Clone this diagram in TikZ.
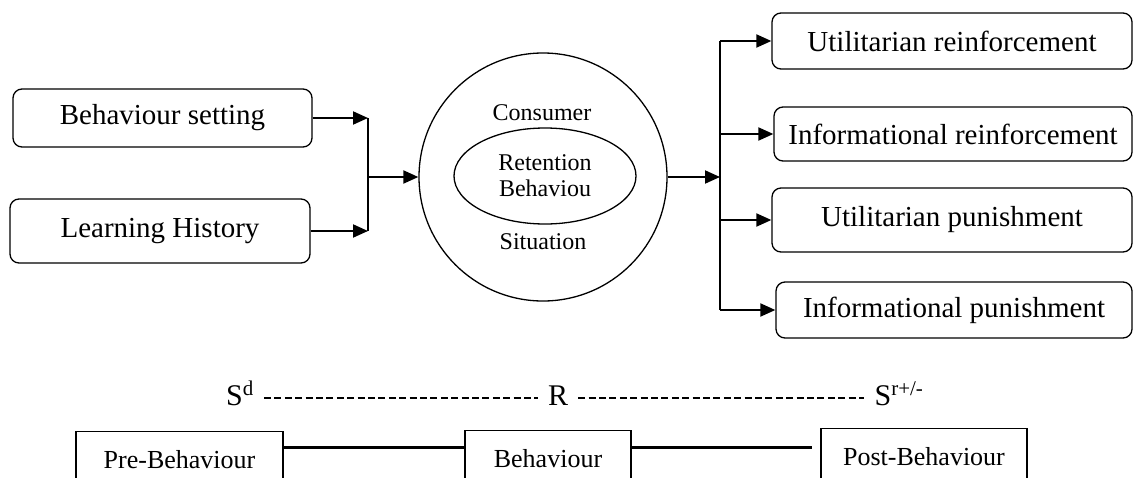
\documentclass[tikz,border=0pt]{standalone}
\usepackage{fontspec}
\setmainfont{Liberation Serif}
\usetikzlibrary{arrows.meta,shapes.geometric}

\tikzset{
  roundbox/.style={draw, rounded corners=9pt, line width=1.3pt, font=\fontsize{29}{33}\selectfont},
  squarebox/.style={draw, line width=1.3pt, minimum height=56pt, anchor=north, font=\fontsize{26}{30}\selectfont},
  link/.style={line width=2pt},
  arrowlink/.style={link, -{Triangle[length=15pt,width=13pt]}},
  joinlink/.style={line width=3pt},
  dashlink/.style={line width=1.6pt, dash pattern=on 7pt off 3.4pt},
  rowlabel/.style={anchor=base, inner sep=10pt, font=\fontsize{30}{34}\selectfont}
}

\begin{document}
\begin{tikzpicture}[x=1pt, y=-1pt]
  \useasboundingbox (0,0) rectangle (1134,477);
  \clip (0,0) rectangle (1134,477);
  % inputs
  \node[roundbox, minimum width=299pt, minimum height=58pt] (setting) at (162.5,118) {Behaviour setting};
  \node[roundbox, minimum width=300pt, minimum height=64pt] (history) at (160,231) {Learning History};
  % consumer situation
  \node[circle, draw, line width=1.3pt, minimum size=248pt] (csit) at (543,177) {};
  \node[ellipse, draw, line width=1.3pt, minimum width=182pt, minimum height=96pt, inner sep=0pt,
        align=center, font=\fontsize{24}{26}\selectfont] (retention) at (545,176) {Retention\\Behaviou};
  \node[anchor=base, font=\fontsize{24}{26}\selectfont] (lconsumer) at (542,120) {Consumer};
  \node[anchor=base, font=\fontsize{24}{26}\selectfont] (lsituation) at (543,249) {Situation};
  % outcomes
  \node[roundbox, minimum width=360pt, minimum height=56pt] (ur) at (952,41) {Utilitarian reinforcement};
  \node[roundbox, minimum width=358pt, minimum height=54pt] (ir) at (953,134) {Informational reinforcement};
  \node[roundbox, minimum width=360pt, minimum height=64pt] (up) at (952,220) {Utilitarian punishment};
  \node[roundbox, minimum width=356pt, minimum height=56pt] (ip) at (954,310) {Informational punishment};
  \coordinate (jl) at (368,177);
  \coordinate (jr) at (720,177);
  \draw[arrowlink] (setting.east) -- (setting.east -| jl);
  \draw[arrowlink] (history.east) -- (history.east -| jl);
  \draw[link] (setting.east -| jl) -- (history.east -| jl);
  \draw[arrowlink] (jl) -- (csit.west);
  \draw[arrowlink] (csit.east) -- (jr);
  \draw[link] (ur.west -| jr) -- (ip.west -| jr);
  \foreach \n in {ur,ir,up,ip}
    \draw[arrowlink] (\n.west -| jr) -- (\n.west);

  % three-term contingency
  \node[rowlabel] (sd) at (240,405) {S\textsuperscript{d}};
  \node[rowlabel] (r) at (558,405) {R};
  \node[rowlabel] (sr) at (899,405) {S\textsuperscript{r+/-}};
  \coordinate (dl) at (0,398);
  \draw[dashlink] (sd.east |- dl) -- (r.west |- dl);
  \draw[dashlink] (r.east |- dl) -- (sr.west |- dl);
  \node[squarebox, minimum width=207pt] (pre) at (179.5,431) {Pre-Behaviour};
  \node[squarebox, minimum width=166pt] (beh) at (548,430) {Behaviour};
  \node[squarebox, minimum width=206pt] (post) at (924,428) {Post-Behaviour};
  \coordinate (lvl) at (0,447);
  \draw[joinlink] (pre.east |- lvl) -- (beh.west |- lvl);
  \draw[joinlink, shorten >=8pt] (beh.east |- lvl) -- (post.west |- lvl);
\end{tikzpicture}
\end{document}
